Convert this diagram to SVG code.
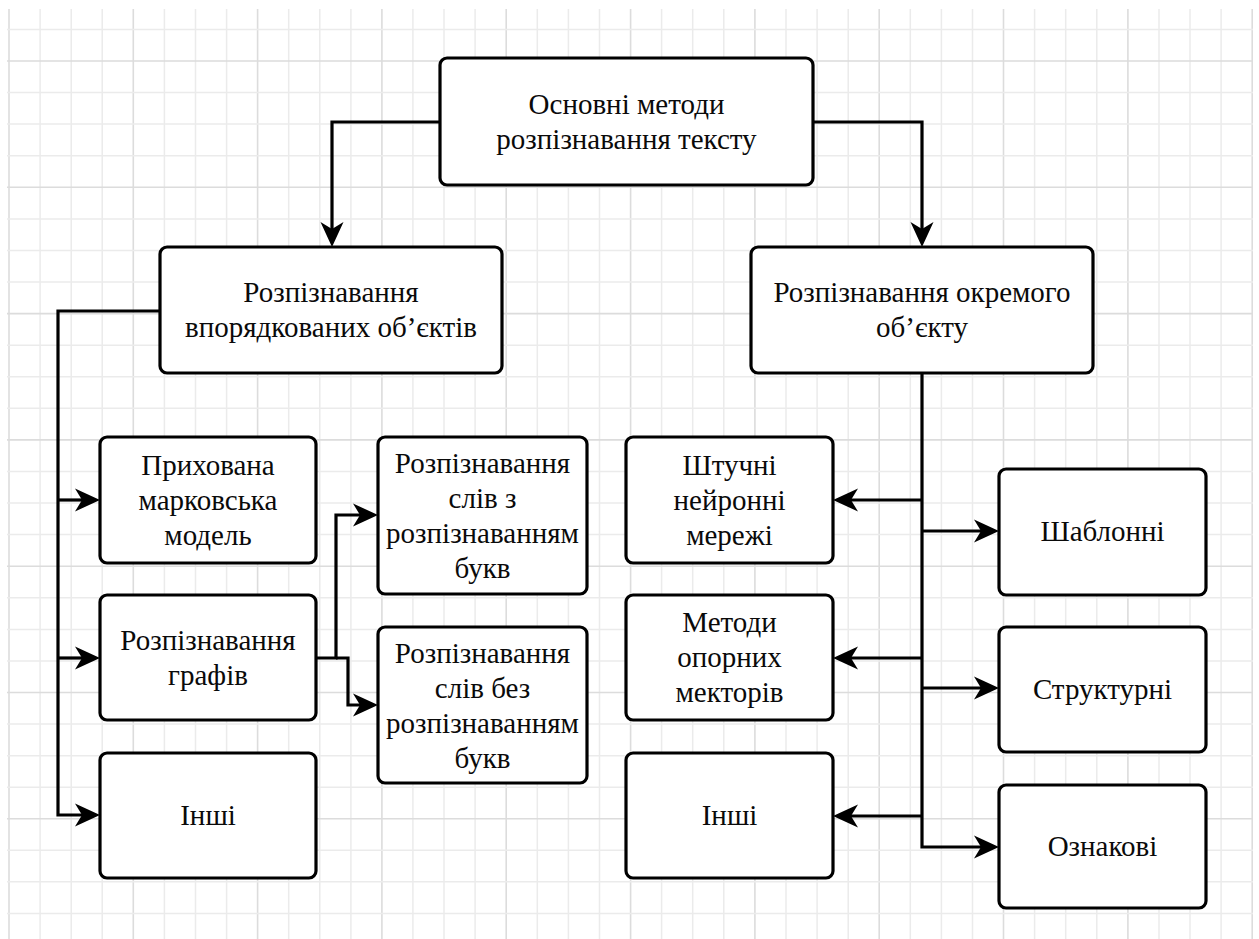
<svg xmlns="http://www.w3.org/2000/svg" width="1259" height="939" viewBox="0 0 1259 939">
<style>
.minor{stroke:#ebebeb;stroke-width:1.5;fill:none}
.major{stroke:#dcdcdc;stroke-width:1.6;fill:none}
.box{fill:#ffffff;stroke:#000000;stroke-width:3.2}
.t{font-family:"Liberation Serif","Times New Roman",serif;font-size:29px;fill:#0a0a0a;text-anchor:middle}
.c{fill:none;stroke:#000000;stroke-width:3.2;marker-end:url(#arr)}
</style>
<defs>
<marker id="arr" markerUnits="userSpaceOnUse" markerWidth="26" markerHeight="24" viewBox="0 0 25 24" refX="15" refY="12" orient="auto">
<path d="M0,0.5 L25,12 L0,23.5 L7,12 Z" fill="#000000"/>
</marker>
</defs>
<rect width="1259" height="939" fill="#ffffff"/>
<g id="grid">
<path class="minor" d="M40.1,9V939M71.2,9V939M102.2,9V939M164.4,9V939M195.5,9V939M226.6,9V939M288.7,9V939M319.8,9V939M350.9,9V939M412.9,9V939M444,9V939M475.1,9V939M537.3,9V939M568.4,9V939M599.5,9V939M661.6,9V939M692.7,9V939M723.8,9V939M786,9V939M817.1,9V939M848.2,9V939M910.3,9V939M941.4,9V939M972.5,9V939M1034.6,9V939M1065.7,9V939M1096.8,9V939M1159,9V939M1190,9V939M1221.1,9V939"/>
<path class="major" d="M9,9V939M133.3,9V939M257.6,9V939M381.9,9V939M506.2,9V939M630.6,9V939M754.9,9V939M879.2,9V939M1003.5,9V939M1127.9,9V939M1252.2,9V939"/>
<path class="minor" d="M7,29.4H1253M7,92.5H1253M7,124.1H1253M7,155.7H1253M7,218.9H1253M7,250.4H1253M7,282H1253M7,345.2H1253M7,376.7H1253M7,408.3H1253M7,471.5H1253M7,503.1H1253M7,534.6H1253M7,597.8H1253M7,629.4H1253M7,660.9H1253M7,724.1H1253M7,755.7H1253M7,787.3H1253M7,850.2H1253M7,881.8H1253M7,913.4H1253"/>
<path class="major" d="M7,61H1253M7,187.3H1253M7,313.6H1253M7,439.9H1253M7,566.2H1253M7,692.5H1253M7,818.8H1253"/>
</g>
<g id="connectors">
<path class="c" d="M440,122H332V237"/>
<path class="c" d="M813,122H922V237"/>
<path class="c" d="M160,311H58V815H90"/>
<path class="c" d="M58,500H90"/>
<path class="c" d="M58,658H90"/>
<path class="c" d="M316,658H336V515H368"/>
<path class="c" d="M336,658H348V705H368"/>
<path class="c" d="M922,373V847H989"/>
<path class="c" d="M922,531H989"/>
<path class="c" d="M922,688H989"/>
<path class="c" d="M922,500H843"/>
<path class="c" d="M922,658H843"/>
<path class="c" d="M922,816H843"/>
</g>
<g id="n-root">
<rect class="box" x="440" y="58" width="373" height="127" rx="7"/>
<text class="t" x="626.5" y="114">Основні методи</text>
<text class="t" x="626.5" y="149">розпізнавання тексту</text>
</g>
<g id="n-ordered">
<rect class="box" x="160" y="247" width="342" height="126" rx="7"/>
<text class="t" x="331" y="302">Розпізнавання</text>
<text class="t" x="331" y="337">впорядкованих об’єктів</text>
</g>
<g id="n-single">
<rect class="box" x="751" y="247" width="342" height="126" rx="7"/>
<text class="t" x="922" y="302">Розпізнавання окремого</text>
<text class="t" x="922" y="337">об’єкту</text>
</g>
<g id="n-hmm">
<rect class="box" x="100" y="437" width="216" height="126" rx="7"/>
<text class="t" x="208" y="475">Прихована</text>
<text class="t" x="208" y="510">марковська</text>
<text class="t" x="208" y="545">модель</text>
</g>
<g id="n-graphs">
<rect class="box" x="100" y="595" width="216" height="125" rx="7"/>
<text class="t" x="208" y="650">Розпізнавання</text>
<text class="t" x="208" y="685">графів</text>
</g>
<g id="n-other-left">
<rect class="box" x="100" y="753" width="216" height="125" rx="7"/>
<text class="t" x="208" y="825">Інші</text>
</g>
<g id="n-words-with">
<rect class="box" x="378" y="437" width="209" height="157" rx="7"/>
<text class="t" x="482.5" y="473">Розпізнавання</text>
<text class="t" x="482.5" y="508">слів з</text>
<text class="t" x="482.5" y="543">розпізнаванням</text>
<text class="t" x="482.5" y="578">букв</text>
</g>
<g id="n-words-without">
<rect class="box" x="378" y="627" width="209" height="156" rx="7"/>
<text class="t" x="482.5" y="663">Розпізнавання</text>
<text class="t" x="482.5" y="698">слів без</text>
<text class="t" x="482.5" y="733">розпізнаванням</text>
<text class="t" x="482.5" y="768">букв</text>
</g>
<g id="n-ann">
<rect class="box" x="626" y="437" width="207" height="126" rx="7"/>
<text class="t" x="729.5" y="475">Штучні</text>
<text class="t" x="729.5" y="510">нейронні</text>
<text class="t" x="729.5" y="545">мережі</text>
</g>
<g id="n-svm">
<rect class="box" x="626" y="595" width="207" height="125" rx="7"/>
<text class="t" x="729.5" y="632">Методи</text>
<text class="t" x="729.5" y="667">опорних</text>
<text class="t" x="729.5" y="702">мекторів</text>
</g>
<g id="n-other-right">
<rect class="box" x="626" y="753" width="207" height="125" rx="7"/>
<text class="t" x="729.5" y="825">Інші</text>
</g>
<g id="n-template">
<rect class="box" x="999" y="469" width="207" height="126" rx="7"/>
<text class="t" x="1102.5" y="541">Шаблонні</text>
</g>
<g id="n-structural">
<rect class="box" x="999" y="627" width="207" height="125" rx="7"/>
<text class="t" x="1102.5" y="699">Структурні</text>
</g>
<g id="n-feature">
<rect class="box" x="999" y="785" width="207" height="123" rx="7"/>
<text class="t" x="1102.5" y="856">Ознакові</text>
</g>
</svg>
